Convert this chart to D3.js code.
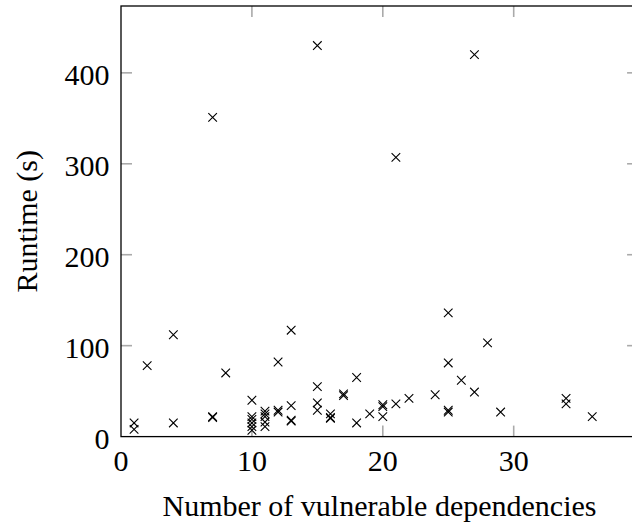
<!DOCTYPE html>
<html>
<head>
<meta charset="utf-8">
<script src="https://cdn.jsdelivr.net/npm/d3@7"></script>
<style>
	body { margin: 0; background: #fff; overflow: hidden; }
	#chartContainer { width: 632px; height: 522px; }
	text { font-family: "Liberation Serif", "DejaVu Serif", serif; fill: #000; }
</style>
</head>
<body>
<div id="chartContainer"></div>
<script>
// number of vulnerable dependencies per project
var depsCount = [1, 1, 2, 4, 4, 7, 7, 7, 8,
	10, 10, 10, 10, 10, 10,
	11, 11, 11, 11, 11,
	12, 12, 12,
	13, 13, 13, 13,
	15, 15, 15, 15,
	16, 16, 16,
	17, 17, 18, 18, 19,
	20, 20, 20, 21, 21, 22, 24,
	25, 25, 25, 25, 26, 27, 27, 28, 29, 34, 34, 36];
// runtime in seconds, same order
var runtimeSec = [15, 8, 78, 112, 15, 351, 22, 21, 70,
	40, 22, 19, 15, 11, 7,
	28, 25, 22, 16, 11,
	82, 29, 27,
	117, 34, 18, 17,
	430, 55, 37, 29,
	25, 21, 20,
	47, 45, 65, 15, 25,
	35, 33, 22, 307, 36, 42, 46,
	136, 81, 29, 27, 62, 420, 49, 103, 27, 42, 36, 22];
var xTicks = [0, 10, 20, 30];
var yTicks = [0, 100, 200, 300, 400];
var xLabel = 'Number of vulnerable dependencies';
var yLabel = 'Runtime (s)';

function drawChart(){
	var width = 632, height = 522;
	var left = 121, top = 6, bottom = 436.6;
	var right = left + 39.5*13.09; // frame runs past the window edge

	var svg = d3.select('#chartContainer').append('svg')
				.attr('width', width)
				.attr('height', height);

	var x = d3.scaleLinear().domain([0, 39.5]).range([left, right]);
	var y = d3.scaleLinear().domain([0, 473.5]).range([bottom, top]);

	// grey inward ticks on all four sides
	var tickLen = 11;
	var ticks = svg.append('g').attr('stroke', '#aaa').attr('stroke-width', 1.6);
	xTicks.filter(function(d) { return d > 0; }).forEach(function(d){
		ticks.append('line').attr('x1', x(d)).attr('x2', x(d)).attr('y1', bottom).attr('y2', bottom - tickLen);
		ticks.append('line').attr('x1', x(d)).attr('x2', x(d)).attr('y1', top).attr('y2', top + tickLen);
	});
	yTicks.filter(function(d) { return d > 0; }).forEach(function(d){
		ticks.append('line').attr('x1', left).attr('x2', left + tickLen).attr('y1', y(d)).attr('y2', y(d));
		ticks.append('line').attr('x1', right).attr('x2', right - tickLen).attr('y1', y(d)).attr('y2', y(d));
	});

	// axis frame
	svg.append('rect')
		.attr('x', left)
		.attr('y', top)
		.attr('width', right - left)
		.attr('height', bottom - top)
		.attr('fill', 'none')
		.attr('stroke', '#000')
		.attr('stroke-width', 1.3);

	// tick labels
	svg.selectAll('.xTickLabel')
		.data(xTicks)
		.enter()
		.append('text')
		.attr('class', 'xTickLabel')
		.attr('x', function(d) { return x(d); })
		.attr('y', 471)
		.attr('text-anchor', 'middle')
		.style('font-size', '30px')
		.text(function(d) { return d; });

	svg.selectAll('.yTickLabel')
		.data(yTicks)
		.enter()
		.append('text')
		.attr('class', 'yTickLabel')
		.attr('x', 109.5)
		.attr('y', function(d) { return y(d) + 12; })
		.attr('text-anchor', 'end')
		.style('font-size', '30px')
		.text(function(d) { return d; });

	// axis titles
	svg.append('text')
		.attr('x', (left + right)/2)
		.attr('y', 516)
		.attr('text-anchor', 'middle')
		.style('font-size', '30px')
		.text(xLabel);

	svg.append('text')
		.attr('text-anchor', 'middle')
		.style('font-size', '30px')
		.attr('transform', 'translate(37,' + (top + bottom)/2 + ') rotate(-90)')
		.text(yLabel);

	// x marks
	var r = 4.3;
	var marks = svg.append('g').attr('stroke', '#000').attr('stroke-width', 1.1).attr('fill', 'none');
	marks.selectAll('path')
		.data(depsCount)
		.enter()
		.append('path')
		.attr('d', function(d, i) {
			var cx = x(d), cy = y(runtimeSec[i]);
			return 'M' + (cx - r) + ',' + (cy - r) + 'L' + (cx + r) + ',' + (cy + r)
				+ 'M' + (cx - r) + ',' + (cy + r) + 'L' + (cx + r) + ',' + (cy - r);
		});
}

drawChart();
</script>
</body>
</html>
